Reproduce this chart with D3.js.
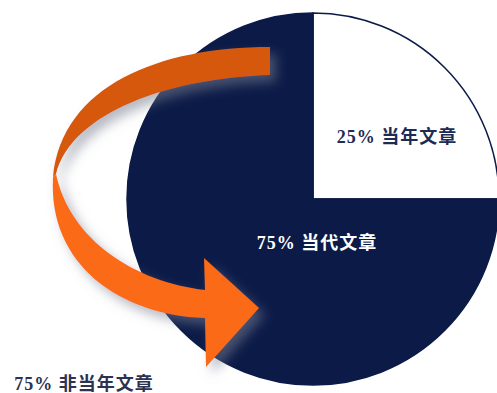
<!DOCTYPE html>
<html><head><meta charset="utf-8">
<script src="https://cdn.jsdelivr.net/npm/d3@7"></script>
<style>html,body{margin:0;padding:0;background:#fff;overflow:hidden}</style>
</head><body>
<svg id="c" width="497" height="393"></svg>
<script>
const categories = ["当年文章", "当代文章"];
const values = [25, 75];
const sliceLabels = ["25% 当年文章", "75% 当代文章"];
const arrowLabel = "75% 非当年文章";

const W = 497, H = 393;
const cx = 313, cy = 199, R = 186;
const colors = ["#ffffff", "#0b1a47"];
const svg = d3.select("#c");

const defs = svg.append("defs");
const f = defs.append("filter").attr("id","sh").attr("x","-30%").attr("y","-30%").attr("width","160%").attr("height","160%");
f.append("feDropShadow").attr("dx",6).attr("dy",7).attr("stdDeviation",6).attr("flood-color","#7a8090").attr("flood-opacity",0.55);

const pie = d3.pie().sort(null).value(d=>d)(values);
const arc = d3.arc().innerRadius(0).outerRadius(R);
const g = svg.append("g").attr("transform",`translate(${cx},${cy})`);
g.selectAll("path").data(pie).join("path")
  .attr("d",arc).attr("fill",(d,i)=>colors[i])
  .attr("stroke",colors[1]).attr("stroke-width",1.5);

// arrow
const ag = svg.append("g").attr("filter","url(#sh)");
ag.append("path")
  .attr("d","M270,47 C160,47 62,85 53,177 L56,174 C72,112 170,78 270,75 Z")
  .attr("fill","#d5590f");
ag.append("path")
  .attr("d","M53,177 C48,265 120,315 205,318 L206,367 L259,308 L204,258 L205,290 C135,282 70,240 56,174 Z")
  .attr("fill","#fb6a12");

const font = "'Liberation Serif','Noto Sans CJK SC',serif";
svg.append("text").attr("x",397).attr("y",143).attr("text-anchor","middle")
  .attr("font-family",font).attr("font-weight","bold").attr("font-size",18)
  .attr("letter-spacing",1).attr("fill","#1d2b55").text(sliceLabels[0]);
svg.append("text").attr("x",317).attr("y",249).attr("text-anchor","middle")
  .attr("font-family",font).attr("font-weight","bold").attr("font-size",18)
  .attr("letter-spacing",1).attr("fill","#ffffff").text(sliceLabels[1]);
svg.append("text").attr("x",84).attr("y",390).attr("text-anchor","middle")
  .attr("font-family",font).attr("font-weight","bold").attr("font-size",18)
  .attr("letter-spacing",1).attr("fill","#2b3350").text(arrowLabel);
</script>
</body></html>
